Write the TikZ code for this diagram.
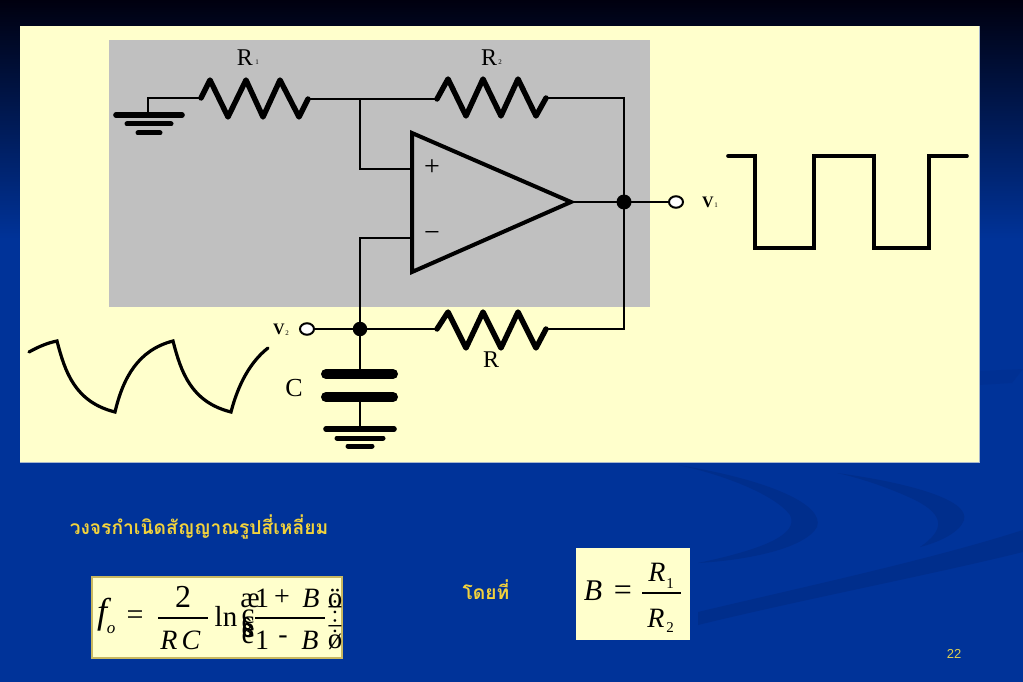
\documentclass[tikz,border=0pt]{standalone}
\usepackage{fontspec}
\setmainfont{Liberation Serif}
\newfontfamily\thaifont[Script=Thai]{Loma}
\newfontfamily\arialfont{Liberation Sans}
\newcommand{\fs}[1]{\fontsize{#1}{#1}\selectfont}
\definecolor{slideblue}{HTML}{003399}
\definecolor{swoosh}{HTML}{002E8C}
\definecolor{topdark}{HTML}{00000F}
\definecolor{pale}{HTML}{FFFFCC}
\definecolor{panel}{HTML}{C0C0C0}
\definecolor{gold}{HTML}{F2D23C}
\definecolor{numgold}{HTML}{E0D050}
\definecolor{khaki}{HTML}{C8B860}
\definecolor{paleedge}{HTML}{A8B8CC}
\usetikzlibrary{calc,shapes.geometric}
\tikzset{
  x=1pt,y=-1pt,
  wire/.style={line width=2pt,line join=miter},
  res/.style={line width=5.4pt,line join=round,line cap=round},
  wave/.style={line width=3.2pt,line join=miter,line cap=round},
  plate/.style={line width=10pt,line cap=round},
  gnda/.style={line width=5.6pt,line cap=round},
  gndb/.style={line width=5pt,line cap=round},
  dotnode/.style={circle,fill=black,inner sep=0pt,minimum size=15pt},
  opennode/.style={ellipse,draw=black,line width=2pt,fill=white,inner sep=0pt,minimum width=14pt,minimum height=11.5pt},
  txt/.style={inner sep=0pt,outer sep=0pt,text=black},
  lab/.style={txt,font=\fs{24}},
  sublab/.style={txt,font=\fs{7}},
  vlab/.style={txt,font=\fs{16}\bfseries},
  eqn/.style={txt,font=\fs{28}},
  eqi/.style={txt,font=\fs{28}\itshape},
  brk/.style={txt,font=\fs{29},anchor=base},
  thai/.style={inner sep=0pt,text=gold,font=\fs{19.2}\thaifont\bfseries},
}
\begin{document}
\begin{tikzpicture}
\useasboundingbox (0,0) rectangle (1023,682);
% background
\fill[slideblue] (0,0) rectangle (1023,682);
\shade[top color=topdark,bottom color=slideblue] (0,0) rectangle (1023,240);
\fill[swoosh] (678,465) .. controls (770,480) and (825,505) .. (817,527) .. controls (805,548) and (750,560) .. (698,563) .. controls (760,550) and (800,535) .. (790,515) .. controls (775,495) and (725,475) .. (678,465) -- cycle;
\fill[swoosh] (837,473) .. controls (910,483) and (970,500) .. (964,520) .. controls (960,532) and (940,542) .. (920,547) .. controls (945,530) and (945,515) .. (915,500) .. controls (890,488) and (860,478) .. (837,473) -- cycle;
\fill[swoosh] (1023,530) .. controls (930,560) and (790,590) .. (698,612) -- (698,625) .. controls (800,600) and (930,575) .. (1023,552) -- cycle;
\fill[swoosh,opacity=.45] (979,371) -- (1023,369) -- (1012,383) -- (979,385) -- cycle;
% panels
\fill[paleedge] (20,26) rectangle (980,463);
\fill[pale] (20,26) rectangle (979,462);
\fill[panel] (109,40) rectangle (650,307);
% named points
\coordinate (gndA) at (148,115);
\coordinate (gndAtop) at (148,98);
\coordinate (r1in) at (201,98);
\coordinate (r1out) at (308,99);
\coordinate (r2in) at (437,99);
\coordinate (r2out) at (546,98);
\coordinate (topj) at (360,99);
\coordinate (fbtop) at (624,98);
\coordinate (fbbot) at (624,329);
\coordinate (rin) at (437,329);
\coordinate (rout) at (546,329);
\coordinate (plusin) at (412,169);
\coordinate (plusbend) at (360,169);
\coordinate (minusin) at (412,238);
\coordinate (minusbend) at (360,238);
\coordinate (opout) at (571,202);
\coordinate (capT) at (360,374);
\coordinate (capB) at (360,397);
\coordinate (gndC) at (360,429);
% wires
\draw[wire] (gndA) -- (gndAtop) -- (r1in);
\draw[wire] (r1out) -- (r2in);
\draw[wire] (r2out) -- (fbtop) -- (fbbot) -- (rout);
\draw[wire] (topj) -- (plusbend) -- (plusin);
\draw[wire] (minusin) -- (minusbend) -- (360,329);
\draw[wire] (opout) -- (676,202);
\draw[wire] (307,329) -- (rin);
\draw[wire] (360,329) -- (capT);
\draw[wire] (capB) -- (gndC);
\node[opennode] (vout) at (676,202) {};
\node[dotnode] (joutput) at (624,202) {};
\node[dotnode,minimum size=14.5pt] (jcap) at (360,329) {};
\node[opennode] (vcap) at (307,329) {};
% resistors
\draw[res] (r1in) -- (210,80) -- (228,117) -- (246,80) -- (263,117) -- (280,80) -- (299,117) -- (r1out);
\draw[res] (r2in) -- (448,79) -- (466,116) -- (483,79) -- (501,116) -- (518,79) -- (536,116) -- (r2out);
\draw[res] (rin) -- (448,312) -- (466,348) -- (483,312) -- (501,348) -- (518,312) -- (536,348) -- (rout);
% grounds
\draw[gnda] (116,115) -- (182,115);
\draw[gndb] (127,124) -- (171,124);
\draw[gndb] (138,133) -- (160,133);
\draw[gnda] (326,429) -- (394,429);
\draw[gndb] (337,438) -- (383,438);
\draw[gndb] (348,446) -- (372,446);
% capacitor
\draw[plate] (326,374) -- (393,374);
\draw[plate] (326,397) -- (393,397);
% op amp
\draw[line width=4pt,line join=miter,fill=panel] (412,133) -- (412,272) -- (opout) -- cycle;
\node[txt,font=\fs{28}] (plus) at (432,168) {+};
\node[txt,font=\fs{28}] (minus) at (432,237) {−};
% labels
\node[lab] (lr1) at (245,58) {R};
\node[sublab] (lr1s) at (257,62) {1};
\node[lab] (lr2) at (489,58) {R};
\node[sublab] (lr2s) at (500,62) {2};
\node[lab] (lr) at (491,360) {R};
\node[lab,font=\fs{26}] (lc) at (294,388) {C};
\node[vlab] (lv1) at (708,202) {V};
\node[sublab] (lv1s) at (716,205) {1};
\node[vlab] (lv2) at (279,329.5) {V};
\node[sublab] (lv2s) at (287,333) {2};
% waveforms
\draw[wave] (29,352) .. controls (38,347) and (47,343) .. (57,341)
  .. controls (65,372) and (75,402) .. (115,412)
  .. controls (123,378) and (138,350) .. (173,341)
  .. controls (181,372) and (191,402) .. (231,412)
  .. controls (238,385) and (250,362) .. (268,348);
\draw[wave,line width=3.6pt] (728,156) -- (755,156) -- (755,248) -- (814,248) -- (814,156) -- (874,156) -- (874,248) -- (929,248) -- (929,156) -- (967,156);
% Thai text
\node[thai] (title) at (199,527) {วงจรกำเนิดสัญญาณรูปสี่เหลี่ยม};
\node[thai] (whereby) at (486,590) {โดยที่};
% formula 1
\fill[pale,draw=khaki,line width=1.6pt] (92,577) rectangle (342,658);
\node[eqi,font=\fs{36}\itshape] (ff) at (102,615) {f};
\node[txt,font=\fs{17}\itshape] (fo) at (111,630) {o};
\node[eqn,font=\fs{30}] (eq1) at (135,618) {=};
\node[eqn,font=\fs{32}] (two) at (183,597) {2};
\draw[line width=1.4pt] (158,618) -- (208,618);
\node[eqi] (rcr) at (169,640) {R};
\node[eqi] (rcc) at (191,640) {C};
\node[eqn,font=\fs{29}] (ln) at (226,616) {ln};
\node[brk] (bl1) at (250,607) {æ};
\node[brk] (bl2) at (248,623) {ç};
\node[brk] (bl3) at (248,630) {ç};
\node[brk] (bl4) at (248,637) {è};
\node[brk] (bl5) at (248,643) {è};
\node[eqn] (one1) at (262,598) {1};
\node[eqn] (pl) at (282,598) {+};
\node[eqi] (b1) at (311,598) {B};
\draw[line width=1.4pt] (255,618) -- (325,618);
\node[eqn] (one2) at (262,640) {1};
\node[eqn] (mi) at (283,640) {-};
\node[eqi] (b2) at (310,640) {B};
\node[brk] (br1) at (335,607) {ö};
\node[eqn] (br2) at (335,609) {÷};
\node[eqn] (br3) at (335,628) {÷};
\node[brk] (br4) at (335,648) {ø};
% formula 2
\fill[pale] (576,548) rectangle (690,640);
\node[eqi,font=\fs{30}\itshape] (bb) at (593,591) {B};
\node[eqn,font=\fs{32}] (eq2) at (623,593) {=};
\draw[line width=1.4pt] (642,593) -- (681,593);
\node[eqi,font=\fs{28}\itshape] (rn) at (657,572) {R};
\node[txt,font=\fs{15}] (rns) at (670,584) {1};
\node[eqi,font=\fs{28}\itshape] (rd) at (656,618) {R};
\node[txt,font=\fs{15}] (rds) at (670,628) {2};
% page number
\node[inner sep=0pt,text=numgold,font=\fs{13}\arialfont] (page) at (954,654) {22};
\end{tikzpicture}
\end{document}
